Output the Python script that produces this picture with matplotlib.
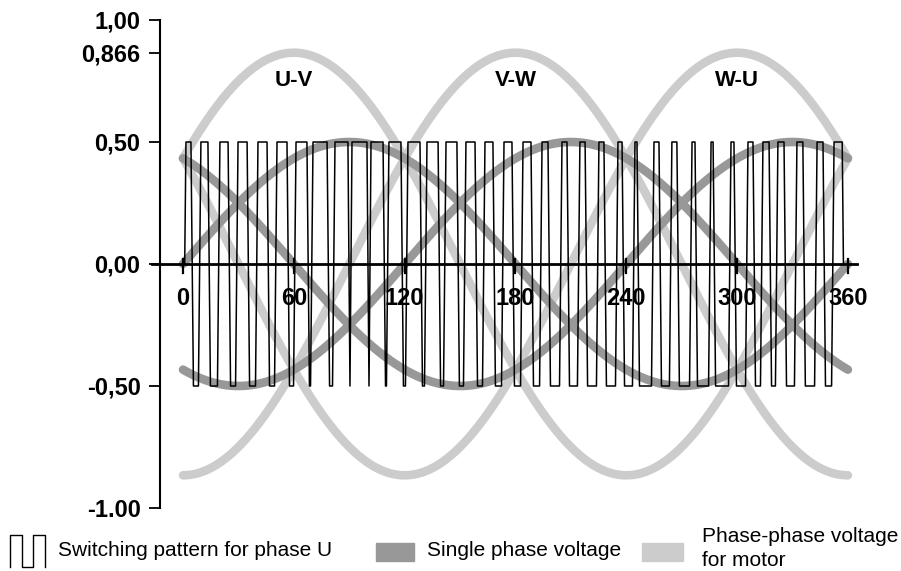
import numpy as np
import matplotlib.pyplot as plt
from matplotlib.lines import Line2D
from matplotlib.patches import Rectangle

plt.rcParams['font.family'] = ['Liberation Sans', 'DejaVu Sans']

# angle axis (degrees)
x_ticks = [0, 60, 120, 180, 240, 300, 360]
y_ticks = [1.0, 0.866, 0.5, 0.0, -0.5, -1.0]
y_labels = ['1,00', '0,866', '0,50', '0,00', '-0,50', '-1.00']

# single phase voltages U, V, W: amplitude and phase shift (deg)
phase_names = ['U', 'V', 'W']
phase_amp = 0.5
phase_shift = [0, 120, 240]

# phase-phase voltages, peak positions (deg)
pp_names = ['U-V', 'V-W', 'W-U']
pp_amp = 0.866
pp_peak = [60, 180, 300]

# switching pattern for phase U: start / end of each high plateau (deg)
pulse_on = [1.6, 9.7, 20.0, 29.8, 40.6, 50.9, 61.2, 70.4, 82.3, 91.5, 101.8, 111.5,
            121.8, 132.1, 142.4, 153.2, 163.5, 173.8, 184.1, 194.4, 205.2, 214.9, 225.2, 235.5,
            244.7, 255.0, 264.7, 275.6, 285.9, 296.7, 305.9, 314.0, 322.1, 332.4, 343.3, 352.5]
pulse_off = [4.3, 13.5, 24.4, 34.7, 45.5, 56.3, 67.1, 78.0, 89.3, 99.6, 108.3, 118.0,
             128.3, 138.1, 148.3, 158.1, 167.8, 178.1, 188.4, 197.6, 207.9, 217.7, 227.9, 237.7,
             245.8, 257.7, 267.4, 277.2, 287.0, 298.3, 308.6, 317.3, 325.4, 335.6, 346.5, 356.9]
pulse_high = 0.5
lean = 1.35  # edges are drawn slightly slanted

DARK = '#989898'
LIGHT = '#cccccc'
W, H = 901, 571

fig = plt.figure(figsize=(9.01, 5.71), dpi=100)
ax = fig.add_axes([160 / W, 1 - 508 / H, 700 / W, 488 / H])
ax.set_xlim((160 - 183) / 1.847, (860 - 183) / 1.847)
ax.set_ylim(-1, 1)

deg = np.linspace(0, 360, 721)
rad = np.deg2rad(deg)

# phase-phase voltage
for peak in pp_peak:
    ax.plot(deg, pp_amp * np.cos(rad - np.deg2rad(peak)), color=LIGHT, lw=6.2,
            solid_capstyle='round', zorder=1)

# single phase voltage
for sh in phase_shift:
    ax.plot(deg, phase_amp * np.sin(rad - np.deg2rad(sh)), color=DARK, lw=6.2,
            solid_capstyle='round', zorder=2)

# switching pattern
px = [pulse_on[0] - lean / 2]
py = [0]
for k in range(len(pulse_on)):
    px += [pulse_on[k], pulse_off[k]]
    py += [pulse_high, pulse_high]
    if k < len(pulse_on) - 1:
        b0 = pulse_off[k] + lean
        b1 = pulse_on[k + 1] - lean
        if b1 < b0:
            b0 = b1 = (pulse_off[k] + pulse_on[k + 1]) / 2
        px += [b0, b1]
        py += [-pulse_high, -pulse_high]
px.append(pulse_off[-1] + lean / 2)
py.append(0)
ax.plot(px, py, color='black', lw=1.1, zorder=3)

# x axis line with ticks
ax.plot([(152 - 183) / 1.847, (857 - 183) / 1.847], [0, 0], color='black', lw=2,
        clip_on=False, zorder=4)
for t in x_ticks:
    ax.plot([t, t], [0.02, -0.035], color='black', lw=1.6, zorder=4)
    ax.text(t, -0.14, str(t), ha='center', va='center', fontsize=17,
            fontweight='bold', zorder=5)

# curve labels
for name, peak in zip(pp_names, pp_peak):
    ax.text(peak, 0.75, name, ha='center', va='center', fontsize=16, fontweight='bold')

# y axis
for s in ['top', 'right', 'bottom']:
    ax.spines[s].set_visible(False)
ax.spines['left'].set_linewidth(1.5)
ax.set_xticks([])
ax.set_yticks(y_ticks)
ax.set_yticklabels(y_labels, fontsize=17, fontweight='bold')
ax.tick_params(axis='y', length=8, width=1.3, pad=6)

# legend
icon_x = [10, 10, 22, 22, 33, 33, 45, 45]
icon_y = [567, 535, 535, 567, 567, 535, 535, 567]
fig.lines.append(Line2D(icon_x, [H - v for v in icon_y], transform=None,
                        color='black', lw=1))
fig.text(58 / W, 1 - 550 / H, 'Switching pattern for phase U', fontsize=15,
         va='center', ha='left')
fig.patches.append(Rectangle((376 / W, 1 - 561 / H), 38 / W, 18 / H,
                             transform=fig.transFigure, color=DARK))
fig.text(427 / W, 1 - 550 / H, 'Single phase voltage', fontsize=15,
         va='center', ha='left')
fig.patches.append(Rectangle((642 / W, 1 - 561 / H), 41 / W, 18 / H,
                             transform=fig.transFigure, color=LIGHT))
fig.text(702 / W, 1 - 537 / H, 'Phase-phase voltage', fontsize=15,
         va='center', ha='left')
fig.text(702 / W, 1 - 561 / H, 'for motor', fontsize=15,
         va='center', ha='left')

fig.savefig('out.png', dpi=100)
